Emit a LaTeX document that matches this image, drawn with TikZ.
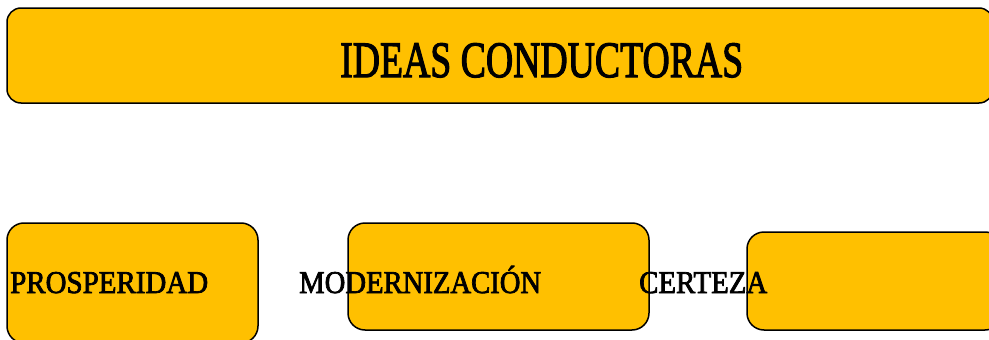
\documentclass[tikz,border=0pt]{standalone}
\usepackage{fontspec}
\setmainfont{Liberation Serif}
\newfontfamily\heavyfont[FakeBold=2.5]{Liberation Serif}
\definecolor{gold}{HTML}{FFC000}
\tikzset{
  box/.style={draw=black, fill=gold, line width=1.5pt, rounded corners=14pt, inner sep=0pt},
  lbl/.style={inner sep=0pt, anchor=base west, text=black, font=\heavyfont}
}
\newcommand{\fitw}[3]{\resizebox{#1}{\height}{\fontsize{#2}{#2}\selectfont #3}}
\begin{document}
\begin{tikzpicture}[x=1pt,y=-1pt]
\useasboundingbox (0,0) rectangle (989,340);
\clip (0,0) rectangle (989,340);
\node[box, minimum width=986pt, minimum height=95pt] (top) at (500,55.5) {};
\node[box, minimum width=251pt, minimum height=120pt, rounded corners=17pt] (b1) at (132.5,283) {};
\node[box, minimum width=301pt, minimum height=107pt, rounded corners=17pt] (b2) at (498.5,276.5) {};
\node[box, minimum width=255pt, minimum height=98pt, rounded corners=17pt] (b3) at (874.5,281) {};
\node[lbl] (title) at (340,77) {\fitw{403pt}{51pt}{IDEAS CONDUCTORAS}};
\node[lbl] (t1) at (10,293) {\fitw{198pt}{31.7pt}{PROSPERIDAD}};
\node[lbl] (t2) at (299,293) {\fitw{242pt}{31.7pt}{MODERNIZACIÓN}};
\node[lbl] (t3) at (639,293) {\fitw{128pt}{31.7pt}{CERTEZA}};
\end{tikzpicture}
\end{document}
